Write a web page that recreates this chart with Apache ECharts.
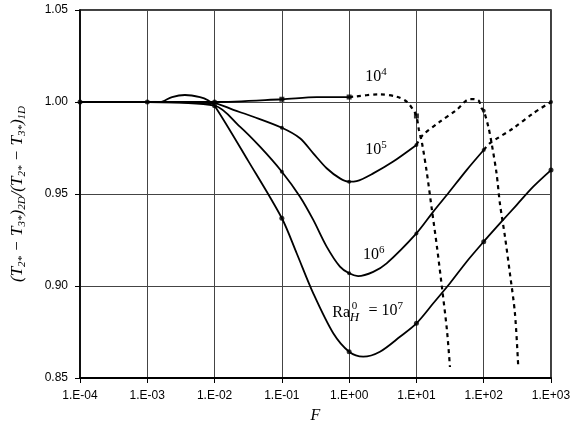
<!DOCTYPE html>
<html>
<head>
	<meta charset="utf-8">
	<title>Temperature difference ratio vs F</title>
	<style type="text/css">
		body{
			margin: 0px;
			background: #fff;
		}
		.chart{
			width: 586px;
			height: 432px;
		}
	</style>
	<script type="text/javascript" src="https://cdn.jsdelivr.net/npm/echarts@6/dist/echarts.min.js"></script>
</head>
<body>
	<div id="chart" class="chart"></div>
	<script type="text/javascript">
		// x values are F, y values are (T2*-T3*)2D/(T2*-T3*)1D
		var ra4Solid = [[1e-4, 1.0], [1e-3, 1.0], [0.01, 1.0], [0.1, 1.0015], [0.33, 1.0026], [1, 1.0027]];
		var ra4Dash = [[1, 1.0027], [1.15, 1.0029], [2.87, 1.0042], [5.08, 1.0029], [7.16, 1.0002], [8.97, 0.9957],
			[10, 0.9924], [10.9, 0.9848], [12.1, 0.9777], [14.3, 0.9614], [17.0, 0.9413], [20.2, 0.9212],
			[23.9, 0.8995], [28.4, 0.8761], [31.5, 0.856]];
		var ra4Marks = [[0.1, 1.0015], [1, 1.0027], [10, 0.9924]];

		var ra5Solid = [[1e-4, 1.0], [1e-3, 1.0], [0.01, 0.9993], [0.019, 0.9957], [0.0376, 0.992], [0.1, 0.986],
			[0.186, 0.9803], [0.293, 0.9721], [0.463, 0.964], [0.73, 0.9585], [1, 0.9567], [1.29, 0.957],
			[2.28, 0.9612], [4.52, 0.9676], [10, 0.9766]];
		var ra5Dash = [[10, 0.9766], [12.2, 0.9817], [22.3, 0.9893], [39.5, 0.9957], [62.4, 1.0016], [82.8, 1.001],
			[92.9, 0.9966], [100, 0.9953], [117, 0.9866], [131, 0.9776], [155, 0.9613], [174, 0.9449],
			[207, 0.9268], [245, 0.9069], [291, 0.8852], [326, 0.8561]];
		var ra5Marks = [[0.1, 0.986], [1, 0.9567], [10, 0.9766], [100, 0.9953]];

		var ra6Solid = [[1e-4, 1.0], [1e-3, 1.0], [0.01, 0.998], [0.0238, 0.9866], [0.0473, 0.9757], [0.1, 0.9621],
			[0.186, 0.9485], [0.293, 0.9359], [0.463, 0.9214], [0.73, 0.9105], [1, 0.9069], [1.36, 0.9054],
			[2.28, 0.9077], [3.61, 0.9123], [10, 0.9286], [17.8, 0.9404], [29.7, 0.9504], [55.7, 0.963], [100, 0.9739]];
		var ra6Dash = [[100, 0.9739], [124, 0.9776], [274, 0.9857], [545, 0.9939], [1000, 1.0]];
		var ra6Marks = [[0.1, 0.9621], [1, 0.9069], [10, 0.9286], [100, 0.9739], [1000, 1.0]];

		var ra7Solid = [[1e-4, 1.0], [1e-3, 1.0], [0.00155, 1.0], [0.00233, 1.0027], [0.00363, 1.0038],
			[0.00607, 1.0027], [0.00798, 1.001], [0.01, 0.998], [0.0316, 0.968], [0.1, 0.9368], [0.166, 0.9178],
			[0.293, 0.896], [0.581, 0.8743], [1, 0.8643], [1.62, 0.8616], [2.87, 0.8643], [5.69, 0.8724],
			[10, 0.8797], [17.8, 0.8906], [31.5, 0.9015], [55.7, 0.9132], [100, 0.9241], [174, 0.934],
			[308, 0.944], [545, 0.954], [1000, 0.963]];
		var ra7Marks = [[1e-4, 1.0], [1e-3, 1.0], [0.01, 1.0], [0.01, 0.998], [0.1, 0.9368], [1, 0.8643],
			[10, 0.8797], [100, 0.9241], [1000, 0.963]];

		// curve labels: [F, value, text]
		var curveLabels = [
			[2.5, 1.0136, '10{sp|4}'],
			[2.5, 0.9739, '10{sp|5}'],
			[2.33, 0.9168, '10{sp|6}'],
			[0.76, 0.8855, 'Ra'],
			[1.2, 0.8859, '{sp2|0}\n{it|H}'],
			[3.5, 0.8864, '= 10{sp|7}']
		];

		function expLabel(v){
			var e = Math.round(Math.log(v) / Math.LN10);
			var s = Math.abs(e);
			return '1.E' + (e < 0 ? '-' : '+') + (s < 10 ? '0' + s : s);
		}

		function lineSeries(data, dashed){
			return {
				type: 'line',
				data: data,
				smooth: 0.3,
				symbol: 'none',
				silent: true,
				lineStyle: {
					color: '#000',
					width: dashed ? 2.2 : 1.8,
					type: dashed ? [4, 4] : 'solid'
				},
				z: 3
			};
		}

		function markSeries(data, shape, size){
			return {
				type: 'scatter',
				data: data,
				symbol: shape,
				symbolSize: size,
				itemStyle: { color: '#000' },
				silent: true,
				z: 4
			};
		}

		window.onload = function(){
			var chart = echarts.init(document.getElementById('chart'));
			var labelSeries = {
				type: 'scatter',
				data: [],
				markPoint: {
					symbol: 'circle',
					symbolSize: 0,
					silent: true,
					data: curveLabels.map(function(a){
						var stacked = a[2].indexOf('\n') >= 0;
						return {
							coord: [a[0], a[1]],
							label: {
								show: true,
								formatter: a[2],
								position: 'inside',
								color: '#000',
								fontFamily: 'Liberation Serif',
								fontSize: 16,
								lineHeight: stacked ? 11 : 18,
								rich: {
									sp: { fontSize: 11, fontFamily: 'Liberation Serif', padding: [0, 0, 10, 0] },
									sp2: { fontSize: 11, fontFamily: 'Liberation Serif', lineHeight: 11 },
									it: { fontSize: 13, fontFamily: 'Liberation Serif', fontStyle: 'italic', lineHeight: 11 }
								}
							}
						};
					})
				}
			};
			chart.setOption({
				backgroundColor: '#fff',
				animation: false,
				grid: {
					left: 80,
					right: 35,
					top: 10,
					bottom: 54,
					show: true,
					borderColor: '#000',
					borderWidth: 1.5
				},
				xAxis: {
					type: 'log',
					logBase: 10,
					min: 1e-4,
					max: 1e3,
					splitNumber: 7,
					name: 'F',
					nameLocation: 'middle',
					nameGap: 30,
					nameTextStyle: {
						fontFamily: 'Liberation Serif',
						fontStyle: 'italic',
						fontSize: 16,
						color: '#000'
					},
					axisLine: { show: true, onZero: false, lineStyle: { color: '#000', width: 2 } },
					axisTick: { show: true, length: 5, lineStyle: { color: '#000' } },
					axisLabel: {
						margin: 12,
						color: '#000',
						fontFamily: 'Liberation Sans',
						fontSize: 12,
						formatter: expLabel
					},
					splitLine: { show: true, lineStyle: { color: '#444', width: 1 } },
					minorTick: { show: false }
				},
				yAxis: {
					type: 'value',
					min: 0.85,
					max: 1.05,
					interval: 0.05,
					name: '(T{s|2*} − T{s|3*}){s|2D}/(T{s|2*} − T{s|3*}){s|1D}',
					nameLocation: 'middle',
					nameGap: 52,
					nameRotate: 90,
					nameTextStyle: {
						fontFamily: 'Liberation Serif',
						fontStyle: 'italic',
						fontSize: 17,
						color: '#000',
						rich: {
							s: { fontFamily: 'Liberation Serif', fontStyle: 'italic', fontSize: 11, padding: [10, 0, 0, 0] }
						}
					},
					axisLine: { show: true, lineStyle: { color: '#000', width: 1.5 } },
					axisTick: { show: true, length: 5, lineStyle: { color: '#000' } },
					axisLabel: {
						margin: 12,
						color: '#000',
						fontFamily: 'Liberation Sans',
						fontSize: 12,
						formatter: function(v){ return v.toFixed(2); }
					},
					splitLine: { show: true, lineStyle: { color: '#444', width: 1 } }
				},
				series: [
					lineSeries(ra4Solid, false),
					lineSeries(ra4Dash, true),
					lineSeries(ra5Solid, false),
					lineSeries(ra5Dash, true),
					lineSeries(ra6Solid, false),
					lineSeries(ra6Dash, true),
					lineSeries(ra7Solid, false),
					markSeries(ra4Marks, 'rect', 5),
					markSeries(ra5Marks, 'circle', 4),
					markSeries(ra6Marks, 'circle', 4),
					markSeries(ra7Marks, 'circle', 5),
					labelSeries
				]
			});
		};
	</script>
</body>
</html>
